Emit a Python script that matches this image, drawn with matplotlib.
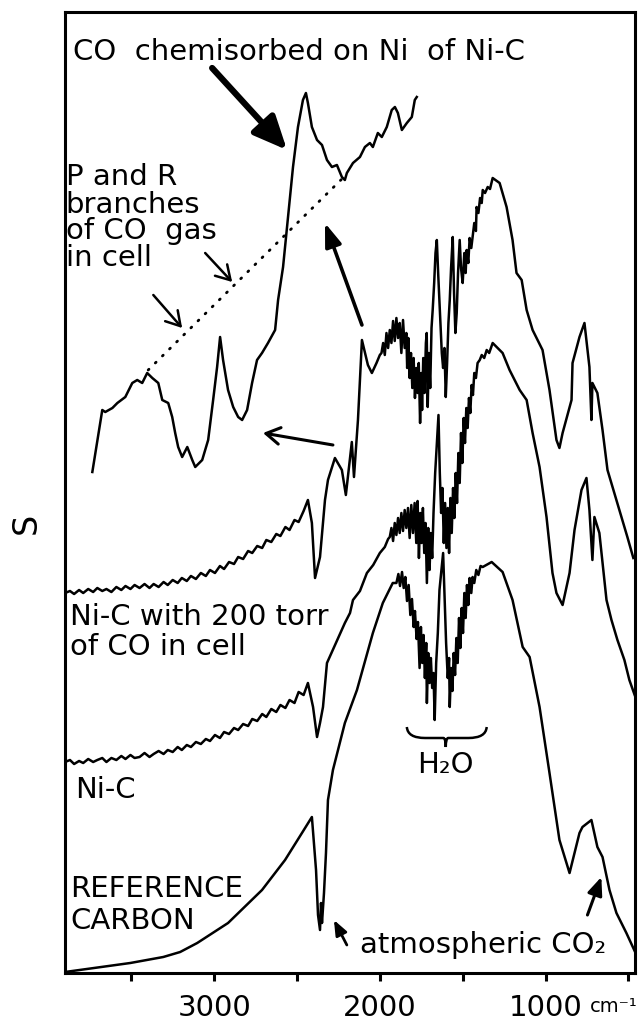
import matplotlib
matplotlib.use('Agg')
import matplotlib.pyplot as plt
from matplotlib.path import Path
from matplotlib.patches import PathPatch

plt.rcParams['font.family'] = ['DejaVu Sans']

# ---------------- data (wavenumber cm-1, signal S in arbitrary units) ----------------
# Reference carbon (bottom trace)
ref_wn = [3900, 3506, 3307, 3205, 3102, 2916, 2711, 2572, 2470, 2410, 2385, 2373, 2361, 2355, 2349, 2337, 2325, 2313, 2283, 2211, 2138, 2042, 1982, 1922,
          1900, 1888, 1878, 1866, 1856, 1846, 1836, 1826, 1816, 1806, 1796, 1788, 1778, 1770, 1760, 1752, 1744, 1736, 1728, 1720,
          1716, 1708, 1700, 1692, 1684, 1676, 1669, 1660, 1650, 1640, 1630, 1618, 1610, 1600, 1590, 1582, 1578, 1570, 1562, 1554,
          1546, 1538, 1530, 1522, 1514, 1506, 1498, 1490, 1482, 1474, 1466, 1458, 1448, 1440, 1430, 1418, 1405, 1392, 1379,
          1325, 1259, 1199, 1138, 1096, 1036, 976, 916, 855, 795, 777, 723, 687, 656, 614, 572, 512, 462]
ref_s = [0.1, 1.0, 1.6, 2.1, 3.0, 5.0, 8.3, 11.3, 14.0, 15.6, 10.3, 5.8, 4.3, 7.0, 5.0, 8.0, 12.0, 17.3, 20.3, 25.0, 28.3, 34.0, 37.0, 39.0,
         39.0, 39.9, 38.7, 40.1, 38.5, 39.6, 37.2, 38.8, 35.8, 37.4, 34.6, 36.2, 33.4, 35.1, 30.5, 34.6, 31.0, 33.8, 29.5, 33.0,
         27.0, 32.0, 29.0, 31.5, 28.5, 30.0, 25.3, 31.0, 34.0, 38.3, 40.0, 42.0, 38.0, 33.0, 29.5, 31.5, 26.6, 30.5, 28.2, 32.0,
         29.8, 33.5, 31.0, 35.5, 32.5, 36.5, 34.0, 38.0, 35.5, 38.8, 36.8, 39.5, 38.0, 39.6, 39.0, 40.3, 39.8, 40.7, 40.6,
         41.1, 40.1, 37.3, 32.6, 31.6, 26.6, 20.0, 13.3, 10.0, 14.0, 14.6, 15.3, 12.6, 11.6, 8.3, 6.0, 4.0, 2.2]

# Noisy baseline region shared by the two Ni-C traces (3900 -> 2434 cm-1)
base_wn = [3900, 3870, 3845, 3815, 3790, 3760, 3730, 3705, 3675, 3650, 3620, 3590, 3560, 3535, 3505, 3480, 3450, 3420,
           3390, 3365, 3335, 3305, 3280, 3250, 3220, 3195, 3165, 3140, 3110, 3080, 3050, 3025, 2995, 2965, 2940, 2910,
           2880, 2855, 2825, 2795, 2770, 2740, 2710, 2685, 2655, 2625, 2600, 2570, 2545, 2515, 2490, 2460, 2434]
nic_base_s = [21.1, 21.3, 20.9, 21.2, 21.0, 21.4, 21.1, 21.3, 21.5, 21.1, 21.5, 21.3, 21.7, 21.4, 21.8, 21.5, 21.6, 22.0,
              21.6, 21.9, 22.2, 21.9, 22.3, 22.1, 22.6, 22.3, 22.8, 22.6, 23.1, 22.9, 23.4, 23.2, 23.8, 23.5, 24.1, 23.9,
              24.5, 24.3, 24.9, 24.7, 25.4, 25.2, 25.9, 25.6, 26.4, 26.1, 26.8, 26.5, 27.3, 27.0, 28.1, 27.8, 29.0]
co_base_s = [38.0, 38.2, 37.9, 38.3, 38.0, 38.4, 38.1, 38.5, 38.2, 38.4, 38.1, 38.6, 38.3, 38.7, 38.4, 38.8, 38.5, 38.9,
             38.5, 38.9, 38.6, 39.1, 38.8, 39.3, 39.0, 39.5, 39.2, 39.7, 39.4, 40.0, 39.7, 40.3, 40.0, 40.7, 40.4, 41.1,
             40.9, 41.6, 41.4, 42.2, 42.0, 42.7, 42.5, 43.3, 43.1, 43.9, 43.7, 44.6, 44.3, 45.3, 45.1, 46.2, 47.3]

# Ni-C (middle trace), from 2403 cm-1 onward
nic_wn = [2403, 2379, 2361, 2343, 2319, 2211, 2180, 2162, 2120, 2078, 2040, 2000, 1970,
          1950, 1940, 1930, 1920, 1910, 1900, 1890, 1880, 1870, 1860, 1850, 1840, 1830, 1820, 1810, 1800, 1790, 1780, 1772, 1764,
          1756, 1748, 1740, 1732, 1724, 1716, 1708, 1700, 1692, 1684, 1676, 1666, 1656, 1646, 1638, 1630, 1622, 1614, 1606, 1598,
          1590, 1582, 1574, 1566, 1558, 1550, 1542, 1534, 1526, 1518, 1510, 1502, 1494, 1486, 1478, 1470, 1462, 1454, 1446, 1438,
          1430, 1420, 1410, 1397, 1385, 1370, 1355, 1340,
          1319, 1259, 1217, 1156, 1114, 1078, 1036, 994, 958, 934, 897, 855, 825, 807, 783, 753, 735, 717, 705, 675,
          632, 602, 566, 524, 494, 462]
nic_s = [26.6, 23.6, 25.0, 26.6, 31.0, 35.0, 36.0, 37.3, 38.2, 40.0, 40.8, 42.0, 42.6,
         43.4, 43.6, 44.5, 43.2, 45.0, 43.8, 45.5, 44.0, 46.0, 44.2, 46.3, 44.5, 46.5, 43.5, 46.8, 44.0, 47.0, 43.0, 47.2, 41.5,
         46.0, 43.0, 46.5, 42.0, 45.0, 39.0, 44.5, 40.3, 44.0, 41.5, 46.0, 50.0, 53.0, 55.8, 50.0, 46.0, 48.5, 43.0, 47.0, 42.5,
         46.5, 42.0, 47.5, 44.0, 48.5, 45.5, 50.0, 47.0, 52.0, 49.0, 54.0, 51.0, 55.5, 53.0, 56.5, 54.5, 57.5, 56.0, 58.8, 57.8,
         60.0, 59.5, 61.0, 61.3, 61.8, 61.5, 62.3, 62.0,
         63.0, 62.0, 60.3, 58.3, 57.3, 54.0, 50.6, 45.6, 40.0, 38.0, 36.8, 40.0, 44.3, 46.0, 48.3, 49.5, 46.3, 41.3, 45.6, 44.0,
         37.3, 35.3, 33.3, 31.3, 29.3, 27.8]

# Ni-C with 200 torr of CO in cell (upper trace), from 2410 cm-1 onward
co_wn = [2410, 2391, 2361, 2331, 2313, 2271, 2229, 2205, 2169, 2156, 2132, 2108, 2072, 2048, 2020, 2000,
         1990, 1980, 1970, 1960, 1950, 1940, 1930, 1920, 1910, 1900, 1890, 1880, 1870, 1860, 1850, 1840, 1835, 1828, 1820, 1812,
         1804, 1796, 1788, 1780, 1772, 1765, 1757, 1750, 1745, 1738, 1730, 1722, 1717, 1711, 1704, 1696, 1688, 1681, 1672, 1664,
         1656, 1648, 1640, 1632, 1626, 1618, 1610, 1602, 1594, 1586, 1578, 1570, 1560, 1552, 1544, 1536, 1528, 1518, 1510, 1500,
         1490, 1482, 1476, 1466, 1458, 1448, 1440, 1430, 1420, 1416, 1405, 1395, 1385, 1379, 1365, 1349, 1335,
         1319, 1277, 1235, 1199, 1175, 1144, 1114, 1078, 1018, 976, 934, 916, 897, 843, 837, 795, 765, 735, 723, 717,
         687, 656, 626, 572, 536, 506, 470]
co_s = [45.0, 39.5, 41.6, 47.3, 49.3, 51.5, 50.3, 47.8, 53.1, 49.6, 55.3, 63.3, 60.8, 60.0, 61.0, 61.8,
        62.0, 63.0, 61.8, 64.0, 62.5, 64.3, 63.0, 65.2, 63.2, 65.5, 63.5, 65.0, 62.0, 65.3, 62.5, 64.0, 60.5, 63.5, 59.5, 62.0,
        58.5, 61.5, 57.5, 60.5, 58.0, 61.0, 55.0, 60.0, 56.3, 61.5, 58.0, 63.0, 64.0, 56.6, 62.0, 58.5, 64.5, 66.3, 69.0, 72.0,
        73.3, 70.0, 67.0, 64.0, 62.0, 60.5, 62.5, 57.6, 61.0, 65.0, 67.3, 70.5, 73.6, 68.0, 64.0, 66.0, 70.0, 73.3, 70.5, 69.0,
        72.0, 70.0, 72.3, 71.0, 73.5, 72.5, 73.6, 75.0, 74.2, 76.6, 76.0, 77.5, 77.0, 78.3, 78.0, 78.6, 78.4,
        79.5, 79.0, 76.6, 73.3, 70.0, 69.3, 66.3, 64.3, 62.3, 58.3, 53.3, 52.5, 54.0, 57.3, 61.0, 63.6, 65.0, 60.6, 55.3, 59.0,
        58.0, 54.3, 50.3, 47.3, 45.3, 43.6, 41.5]

# Inset: expanded CO region (drawn on the same axes)
inset_wn = [3735, 3675, 3657, 3614, 3584, 3536, 3494, 3464, 3434, 3404, 3373, 3337, 3313, 3277, 3253, 3235, 3217, 3193, 3162, 3132,
            3114, 3072, 3036, 3006, 2982, 2964, 2946, 2916, 2885, 2855, 2831, 2801, 2771, 2741, 2711, 2675, 2632, 2614, 2584, 2554,
            2524, 2494, 2464, 2446, 2434, 2410, 2379, 2349, 2319, 2289, 2259, 2229, 2211, 2199, 2162, 2120, 2090, 2060, 2042, 2012,
            1988, 1958, 1928, 1909, 1891, 1867, 1837, 1807, 1789, 1777]
inset_s = [50.1, 56.3, 56.1, 56.5, 57.0, 57.6, 59.0, 59.3, 59.0, 60.0, 59.5, 59.0, 57.3, 57.0, 55.6, 54.0, 52.6, 51.6, 52.6, 51.3,
           50.6, 51.3, 53.3, 57.3, 60.6, 63.6, 61.3, 58.3, 56.6, 55.6, 55.3, 56.3, 59.0, 61.3, 62.0, 63.0, 64.3, 67.3, 70.6, 75.6,
           80.6, 84.6, 87.3, 88.0, 87.0, 84.6, 83.3, 82.8, 81.3, 80.6, 80.8, 79.6, 79.3, 80.0, 81.0, 81.6, 82.6, 83.0, 82.6, 84.0,
           83.6, 84.6, 86.3, 86.6, 86.0, 84.3, 85.0, 85.6, 87.3, 87.6]

# dotted baseline under the inset (P and R branches)
dot_wn = [3398, 2223]
dot_s = [60.3, 79.5]

tick_pos = [3500, 3000, 2500, 2000, 1500, 1000, 500]
tick_lbl = ['', '3000', '', '2000', '', '1000', '']

# ---------------- figure ----------------
W, H = 642, 1022
fig = plt.figure(figsize=(W / 100, H / 100), dpi=100)
ax = fig.add_axes([65 / W, 1 - 973 / H, 570 / W, 961 / H])
ax.set_xlim(3900, 460)
ax.set_ylim(0, 96.1)

lw = 1.8
ax.plot(ref_wn, ref_s, color='k', lw=lw)
ax.plot(base_wn + nic_wn, nic_base_s + nic_s, color='k', lw=lw)
ax.plot(base_wn + co_wn, co_base_s + co_s, color='k', lw=lw)
ax.plot(inset_wn, inset_s, color='k', lw=lw)
ax.plot(dot_wn, dot_s, color='k', lw=2.0, linestyle=(0, (0.4, 3.2)), dash_capstyle='round')

ax.set_xticks(tick_pos)
ax.set_xticklabels(tick_lbl, fontsize=21)
ax.tick_params(axis='x', direction='out', length=6, width=2.2, pad=9)
ax.set_yticks([])
for sp in ax.spines.values():
    sp.set_linewidth(2.2)

fs = 21
# texts
ax.text(3849, 92.1, 'CO  chemisorbed on Ni  of Ni-C', fontsize=fs, ha='left', va='center')
for txt, yy in [('P and R', 79.6), ('branches', 76.8), ('of CO  gas', 74.2), ('in cell', 71.5)]:
    ax.text(3895, yy, txt, fontsize=fs, ha='left', va='center')
ax.text(3870, 35.6, 'Ni-C with 200 torr', fontsize=fs, ha='left', va='center')
ax.text(3870, 32.6, 'of CO in cell', fontsize=fs, ha='left', va='center')
ax.text(3837, 18.3, 'Ni-C', fontsize=fs, ha='left', va='center')
ax.text(3870, 8.4, 'REFERENCE', fontsize=fs, ha='left', va='center')
ax.text(3870, 5.2, 'CARBON', fontsize=fs, ha='left', va='center')
ax.text(1602, 20.8, 'H₂O', fontsize=fs, ha='center', va='center')
ax.text(2120, 2.8, 'atmospheric CO₂', fontsize=fs, ha='left', va='center')

# arrows
def arrow(tail, head, style, lwid, ms):
    ax.annotate('', xy=head, xytext=tail,
                arrowprops=dict(arrowstyle=style, lw=lwid, color='k', mutation_scale=ms,
                                shrinkA=0, shrinkB=0))

arrow((3012, 90.5), (2560, 82.3), '-|>,head_length=1.0,head_width=0.45', 4.5, 20)
arrow((3054, 72.0), (2891, 69.1), '->,head_length=0.5,head_width=0.3', 1.8, 20)
arrow((3367, 67.8), (3193, 64.5), '->,head_length=0.5,head_width=0.3', 1.8, 20)
arrow((2108, 64.8), (2331, 75.0), '-|>,head_length=0.7,head_width=0.25', 2.6, 20)
arrow((2283, 52.8), (2705, 54.0), '->,head_length=0.5,head_width=0.3', 2.2, 20)
arrow((2199, 2.8), (2277, 5.3), '-|>,head_length=0.5,head_width=0.2', 2.0, 18)
arrow((747, 5.8), (663, 9.6), '-|>,head_length=0.6,head_width=0.25', 2.2, 18)

# curly brace under the H2O band
bx0, bx1, bxm = 1837, 1355, 1602
by_end, by_mid, by_tip = 24.6, 23.5, 22.6
verts = [(bx0, by_end), (bx0 - 5, by_mid), (bx0 - 110, by_mid), (bxm + 15, by_mid),
         (bxm, by_mid), (bxm, by_tip), (bxm, by_mid), (bxm - 15, by_mid),
         (bx1 + 110, by_mid), (bx1 + 5, by_mid), (bx1, by_end)]
codes = [Path.MOVETO, Path.CURVE3, Path.CURVE3, Path.LINETO,
         Path.CURVE3, Path.CURVE3, Path.CURVE3, Path.CURVE3,
         Path.LINETO, Path.CURVE3, Path.CURVE3]
ax.add_patch(PathPatch(Path(verts, codes), fill=False, lw=1.8, color='k'))

fig.text(26 / W, 1 - 523 / H, 'S', fontsize=24, rotation=90, ha='center', va='center')
fig.text(590 / W, 1 - 1006 / H, 'cm⁻¹', fontsize=14, ha='left', va='center')

fig.savefig('out.png', dpi=100)
